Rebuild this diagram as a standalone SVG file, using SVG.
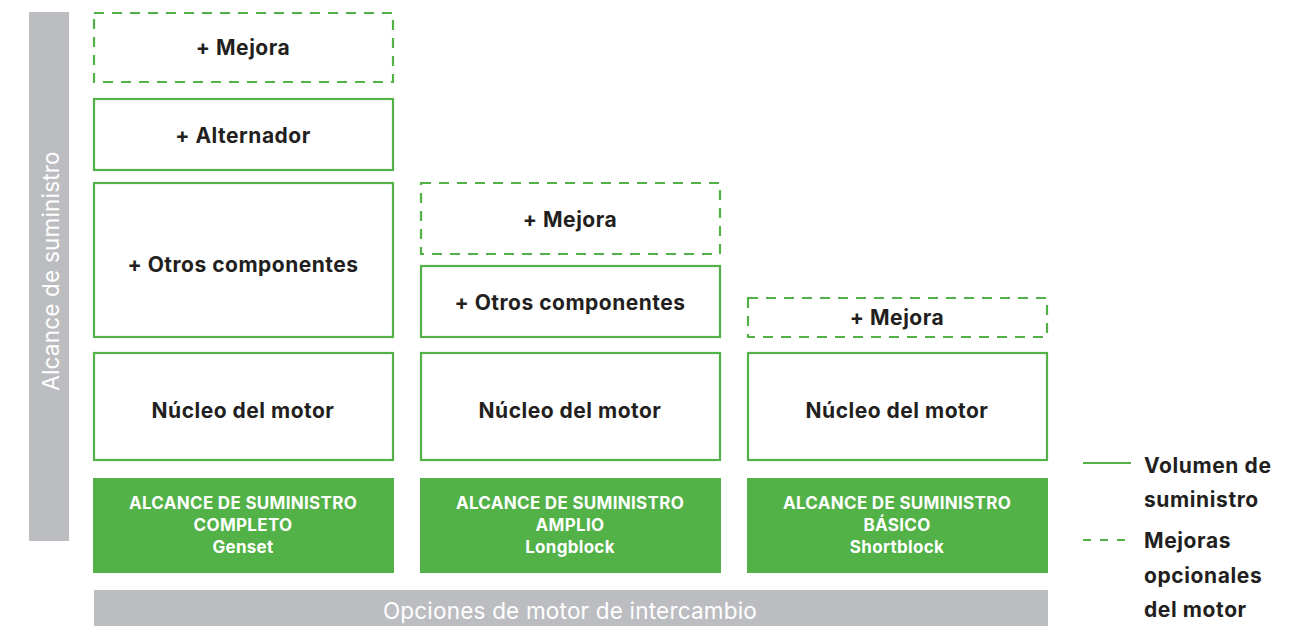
<svg xmlns="http://www.w3.org/2000/svg" width="1306" height="626" viewBox="0 0 1306 626">
<style>
.box{fill:#fff;stroke:#52b147;stroke-width:2.2}
.dash{fill:#fff;stroke:#52b147;stroke-width:2.2;stroke-dasharray:10 8}
.fill{fill:#52b147}
.grey{fill:#bcbdc0}
.t{font-family:Inter,"Liberation Sans",sans-serif;font-weight:700;font-size:21px;letter-spacing:0.5px;fill:#231f20;text-anchor:middle;dominant-baseline:central}
.w{font-family:Inter,"Liberation Sans",sans-serif;font-weight:700;font-size:17px;letter-spacing:0.3px;fill:#fff;text-anchor:middle}
.g{font-family:Inter,"Liberation Sans",sans-serif;font-weight:400;font-size:22.5px;letter-spacing:0.2px;fill:#fff;text-anchor:middle;dominant-baseline:central}
.l{font-family:Inter,"Liberation Sans",sans-serif;font-weight:700;font-size:21px;letter-spacing:0.6px;fill:#231f20;dominant-baseline:central}
</style>
<g id="axis-y"><rect class="grey" x="29" y="12" width="40" height="529"/><text class="g" transform="translate(50,271) rotate(-90)">Alcance de suministro</text></g>
<g id="axis-x"><rect class="grey" x="94" y="590" width="954" height="36"/><text class="g" x="570" y="610">Opciones de motor de intercambio</text></g>
<g id="c1-mejora"><rect class="dash" x="94" y="13" width="299" height="69"/><text class="t" x="243" y="47">+ Mejora</text></g>
<g id="c1-alternador"><rect class="box" x="94" y="99" width="299" height="71"/><text class="t" x="243" y="135">+ Alternador</text></g>
<g id="c1-otros"><rect class="box" x="94" y="183" width="299" height="154"/><text class="t" x="243" y="264">+ Otros componentes</text></g>
<g id="c1-nucleo"><rect class="box" x="94" y="353" width="299" height="107"/><text class="t" x="243" y="410">Núcleo del motor</text></g>
<g id="c1-label"><rect class="fill" x="93" y="478" width="301" height="95"/><text class="w" x="243" y="509">ALCANCE DE SUMINISTRO<tspan x="243" dy="22">COMPLETO</tspan><tspan x="243" dy="22">Genset</tspan></text></g>
<g id="c2-mejora"><rect class="dash" x="421" y="183" width="299" height="71"/><text class="t" x="570" y="219">+ Mejora</text></g>
<g id="c2-otros"><rect class="box" x="421" y="266" width="299" height="71"/><text class="t" x="570" y="302">+ Otros componentes</text></g>
<g id="c2-nucleo"><rect class="box" x="421" y="353" width="299" height="107"/><text class="t" x="570" y="410">Núcleo del motor</text></g>
<g id="c2-label"><rect class="fill" x="420" y="478" width="301" height="95"/><text class="w" x="570" y="509">ALCANCE DE SUMINISTRO<tspan x="570" dy="22">AMPLIO</tspan><tspan x="570" dy="22">Longblock</tspan></text></g>
<g id="c3-mejora"><rect class="dash" x="748" y="298" width="299" height="39"/><text class="t" x="897" y="317">+ Mejora</text></g>
<g id="c3-nucleo"><rect class="box" x="748" y="353" width="299" height="107"/><text class="t" x="897" y="410">Núcleo del motor</text></g>
<g id="c3-label"><rect class="fill" x="747" y="478" width="301" height="95"/><text class="w" x="897" y="509">ALCANCE DE SUMINISTRO<tspan x="897" dy="22">BÁSICO</tspan><tspan x="897" dy="22">Shortblock</tspan></text></g>
<g id="legend">
<line x1="1083" y1="463" x2="1131" y2="463" stroke="#52b147" stroke-width="2.2"/>
<line x1="1083" y1="540" x2="1131" y2="540" stroke="#52b147" stroke-width="2.2" stroke-dasharray="8 9"/>
<text class="l" x="1144" y="465">Volumen de</text>
<text class="l" x="1144" y="499">suministro</text>
<text class="l" x="1144" y="540">Mejoras</text>
<text class="l" x="1144" y="575">opcionales</text>
<text class="l" x="1144" y="609">del motor</text>
</g>
<g id="connectors"/>
</svg>
